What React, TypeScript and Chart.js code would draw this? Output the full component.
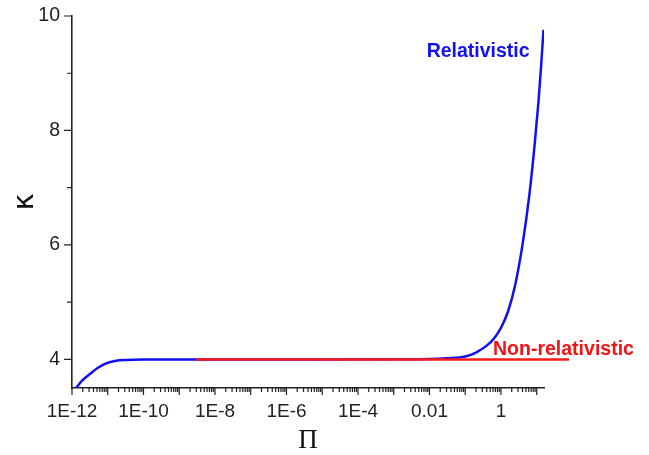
import React, { useEffect, useRef } from "react";
import { Chart, registerables } from "chart.js";

Chart.register(...registerables);

// Relativistic branch: Π and κ along the curve
const relPi = [
  1.3e-12, 2e-12, 3.1e-12, 5.2e-12, 9e-12, 1.7e-11, 3.3e-11, 1e-10, 1e-9, 1e-6,
  1e-3, 0.01, 0.03, 0.1, 0.2, 0.4, 0.63, 1, 1.6, 2.5, 4, 6.3, 8.9, 11.2, 13.2, 15.5,
];
const relKappa = [
  3.5, 3.64, 3.74, 3.85, 3.93, 3.975, 3.99, 3.998, 4.0, 4.0,
  4.003, 4.008, 4.02, 4.05, 4.12, 4.24, 4.36, 4.55, 4.85, 5.3, 6.0, 6.9, 7.8, 8.5, 9.1, 9.76,
];

// Non-relativistic branch: constant κ
const nonRelPi = [3e-9, 80];
const nonRelKappa = [4, 4];

// Axis ticks
const xLabelValues = [1e-12, 1e-10, 1e-8, 1e-6, 1e-4, 0.01, 1];
const xLabelTexts = ["1E-12", "1E-10", "1E-8", "1E-6", "1E-4", "0.01", "1"];
const xMin = 1e-12;
const xMax = 16;
const yLabelValues = [4, 6, 8, 10];
const yMinorValues = [5, 7, 9];
const yMin = 3.5;
const yMax = 10;

// Curve labels, anchored at (Π, κ)
const curveLabels = [
  { text: "Relativistic", pi: 0.23, kappa: 9.37, color: "#1010f0", align: "center" },
  { text: "Non-relativistic", pi: 0.6, kappa: 4.17, color: "#f01414", align: "left" },
];

const AXIS_COLOR = "#222222";
const SANS = "'Liberation Sans', Arial, sans-serif";

const tickMarksPlugin = {
  id: "tickMarks",
  afterDraw(chart: any) {
    const { ctx, chartArea } = chart;
    const x = chart.scales.x;
    const y = chart.scales.y;
    ctx.save();
    ctx.strokeStyle = AXIS_COLOR;
    ctx.lineWidth = 1.2;
    ctx.beginPath();
    const eMin = Math.round(Math.log10(xMin));
    const eMax = Math.floor(Math.log10(xMax));
    for (let e = eMin; e <= eMax; e++) {
      for (let k = 1; k <= 9; k++) {
        const v = k * Math.pow(10, e);
        if (v > xMax * 1.0001) break;
        const px = x.getPixelForValue(v);
        const len = k === 1 ? 7 : 4;
        ctx.moveTo(px, chartArea.bottom);
        ctx.lineTo(px, chartArea.bottom + len);
      }
    }
    for (const v of yLabelValues) {
      const py = y.getPixelForValue(v);
      ctx.moveTo(chartArea.left, py);
      ctx.lineTo(chartArea.left - 8, py);
    }
    for (const v of yMinorValues) {
      const py = y.getPixelForValue(v);
      ctx.moveTo(chartArea.left, py);
      ctx.lineTo(chartArea.left - 5, py);
    }
    ctx.stroke();

    ctx.font = `bold 19.5px ${SANS}`;
    ctx.textBaseline = "middle";
    for (const lab of curveLabels) {
      ctx.fillStyle = lab.color;
      ctx.textAlign = lab.align as CanvasTextAlign;
      ctx.fillText(lab.text, x.getPixelForValue(lab.pi), y.getPixelForValue(lab.kappa));
    }
    ctx.restore();
  },
};

export default function App() {
  const canvasRef = useRef<HTMLCanvasElement | null>(null);

  useEffect(() => {
    if (!canvasRef.current) return;
    const chart = new Chart(canvasRef.current, {
      type: "line",
      data: {
        datasets: [
          {
            label: "Non-relativistic",
            data: nonRelPi.map((p, i) => ({ x: p, y: nonRelKappa[i] })),
            borderColor: "#ff1a1a",
            borderWidth: 2.5,
            pointRadius: 0,
            clip: false as any,
          },
          {
            label: "Relativistic",
            data: relPi.map((p, i) => ({ x: p, y: relKappa[i] })),
            borderColor: "#1010f5",
            borderWidth: 2.5,
            pointRadius: 0,
            cubicInterpolationMode: "monotone",
          },
        ],
      },
      options: {
        animation: false,
        responsive: false,
        events: [],
        layout: { padding: { top: 16, right: 105, left: 0, bottom: 0 } },
        plugins: { legend: { display: false }, tooltip: { enabled: false } },
        scales: {
          x: {
            type: "logarithmic",
            min: xMin,
            max: xMax,
            grid: { display: false, drawTicks: true, tickLength: 7 },
            border: { display: true, color: AXIS_COLOR, width: 1.6 },
            afterBuildTicks: (scale: any) => {
              scale.ticks = xLabelValues.map((v) => ({ value: v }));
            },
            afterFit: (scale: any) => {
              scale.height = 67;
            },
            ticks: {
              autoSkip: false,
              maxRotation: 0,
              padding: 5,
              color: AXIS_COLOR,
              font: { family: SANS, size: 19 },
              callback: (value: any) => {
                const idx = xLabelValues.findIndex((v) => Math.abs(Math.log10(v) - Math.log10(value)) < 1e-6);
                return idx >= 0 ? xLabelTexts[idx] : "";
              },
            },
            title: {
              display: true,
              text: "Π",
              color: "#111111",
              font: { family: "'Liberation Serif', 'Times New Roman', serif", size: 27, lineHeight: 1 },
              padding: { top: 0, bottom: 1 },
            },
          },
          y: {
            type: "linear",
            min: yMin,
            max: yMax,
            grid: { display: false, drawTicks: true, tickLength: 8 },
            border: { display: true, color: AXIS_COLOR, width: 1.6 },
            afterBuildTicks: (scale: any) => {
              scale.ticks = yLabelValues.map((v) => ({ value: v }));
            },
            afterFit: (scale: any) => {
              scale.width = 72;
            },
            ticks: {
              padding: 4,
              color: AXIS_COLOR,
              font: { family: SANS, size: 19.5 },
              callback: (value: any) => String(value),
            },
            title: {
              display: true,
              text: "κ",
              color: "#111111",
              font: { family: "'DejaVu Sans', sans-serif", size: 29, lineHeight: 1 },
              padding: { top: 11, bottom: 0 },
            },
          },
        },
      },
      plugins: [tickMarksPlugin],
    });
    return () => chart.destroy();
  }, []);

  return (
    <div style={{ position: "absolute", left: 0, top: 0, width: 649, height: 455, background: "#fff" }}>
      <canvas ref={canvasRef} width={649} height={455} />
    </div>
  );
}
